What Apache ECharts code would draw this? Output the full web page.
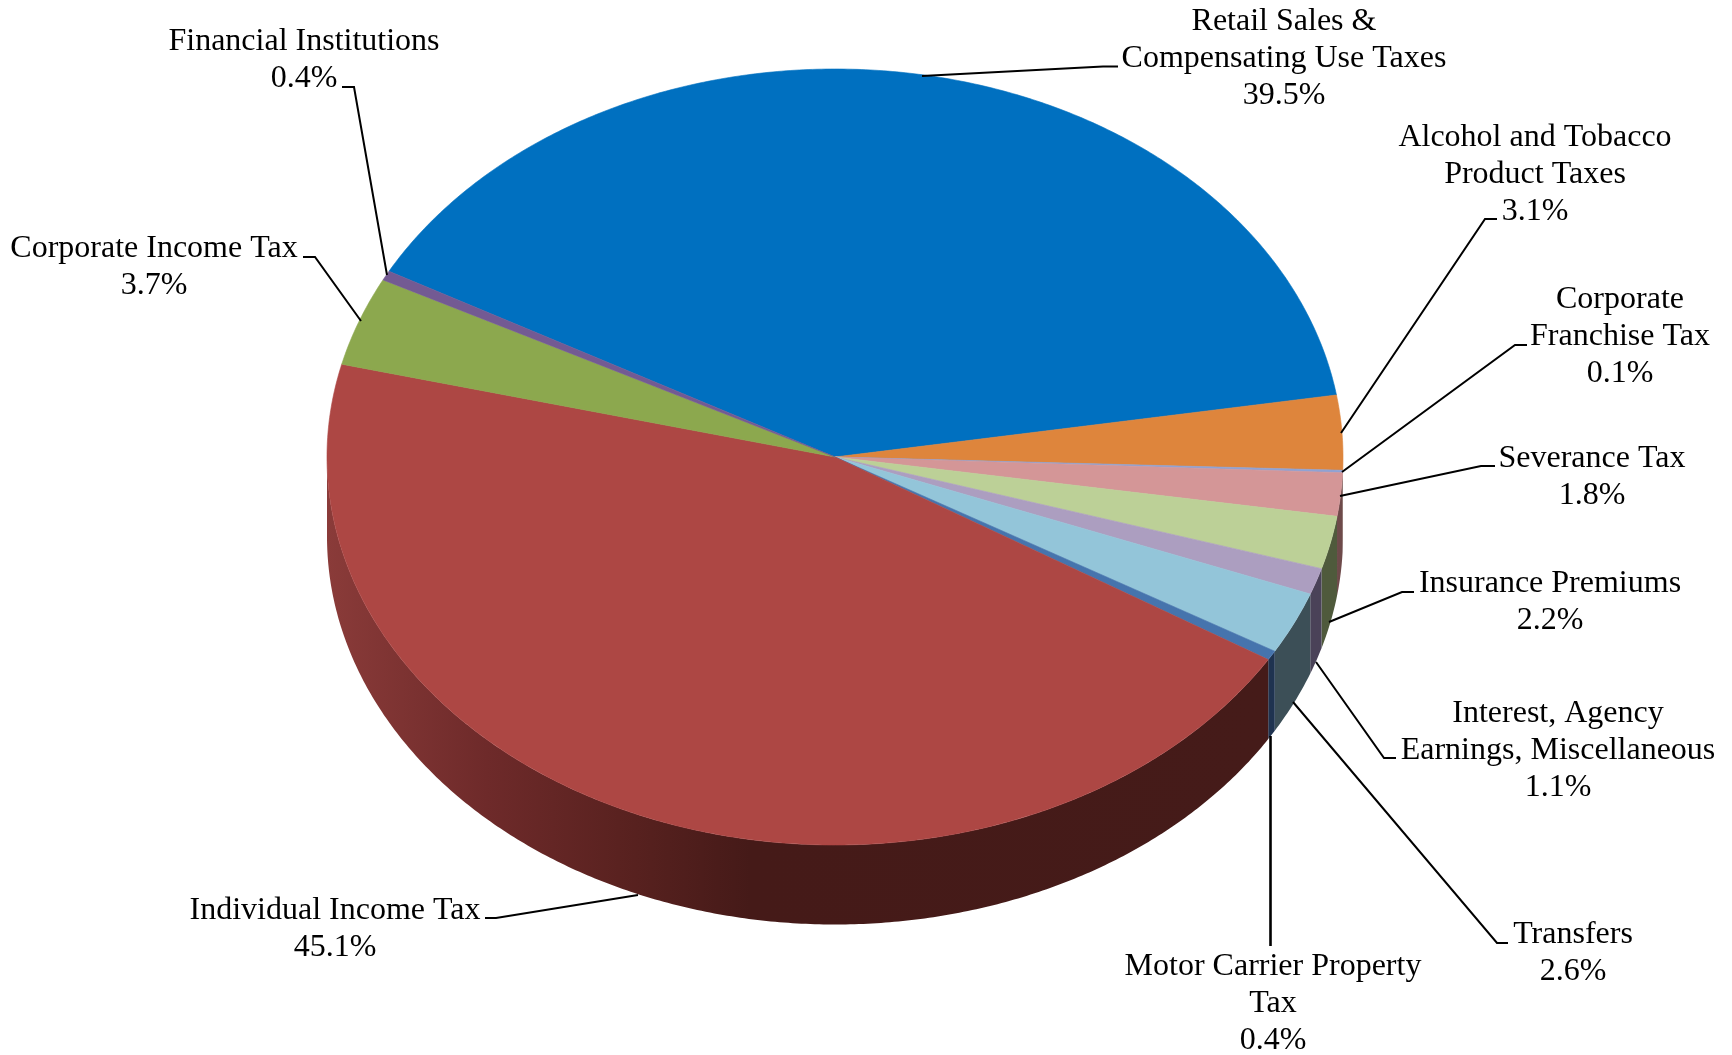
<!DOCTYPE html>
<html><head><meta charset="utf-8">
<style>html,body{margin:0;padding:0;background:#fff}#c{width:1732px;height:1055px}</style>
<script src="https://cdn.jsdelivr.net/npm/echarts@6/dist/echarts.min.js"></script>
</head><body><div id="c"></div>
<script>
// ---- data ----
const categories = ['Retail Sales & Compensating Use Taxes','Alcohol and Tobacco Product Taxes','Corporate Franchise Tax','Severance Tax','Insurance Premiums','Interest, Agency Earnings, Miscellaneous','Transfers','Motor Carrier Property Tax','Individual Income Tax','Corporate Income Tax','Financial Institutions'];
const shares = [39.5,3.1,0.1,1.8,2.2,1.1,2.6,0.4,45.1,3.7,0.4];
const labelLines = [
  ['Retail Sales &','Compensating Use Taxes'],['Alcohol and Tobacco','Product Taxes'],['Corporate','Franchise Tax'],
  ['Severance Tax'],['Insurance Premiums'],['Interest, Agency','Earnings, Miscellaneous'],['Transfers'],
  ['Motor Carrier Property','Tax'],['Individual Income Tax'],['Corporate Income Tax'],['Financial Institutions']
];
// ---- styling and layout ----
const topColors = ['#0070C0','#DE853C','#8FA2D4','#D49697','#BCD097','#AC9EC0','#93C5D9','#4674AD','#AD4744','#8CA84E','#735A93'];
const sideColors = ['#003A63','#6E4220','#47506A','#6E4A4A','#4F5A3C','#4A4258','#3C4F57','#1F3350',null,'#4A5A2A','#3A2D4A'];
const cx = 835, cy = 457, rx = 508, ry = 388, depth = 79.5, startDeg = -61.4;
const fontCss = '32px "Liberation Serif"', lineH = 37;
const labelCenters = [[1284,22],[1535,138],[1620,300],[1592,459],[1550,584],[1558,714],[1573,935],[1273,967],[335,911],[154,249],[304,42]];
const leaders = [
  [[1118,66.5],[1103,66.5],[922,76]],
  [[1497,219],[1485,219],[1341,433]],
  [[1527,345],[1515,345],[1342,472]],
  [[1495,466],[1481,466],[1340,496]],
  [[1414,592],[1402,592],[1329,622]],
  [[1396,758],[1384,758],[1316,662]],
  [[1508,943],[1497,943],[1293,702]],
  [[1270.5,946],[1270.5,736]],
  [[485,918],[496,918],[638,895]],
  [[303,257],[315,257],[361,321]],
  [[342,87],[354,87],[387,275]]
];
const leaderWidths = [2,2,2,2,2,2,2,2.6,2,2,2];

const total = shares.reduce((a,b)=>a+b,0);
const starts = []; shares.reduce((acc,v,i)=>{starts[i]=acc;return acc+v;},0);
const toDeg = p => startDeg + p/total*360;
const pt = (deg,dy=0) => {const a=deg*Math.PI/180;return [cx+rx*Math.sin(a),cy-ry*Math.cos(a)+dy];};
function arc(a0,a1,dy){const n=Math.max(2,Math.ceil(Math.abs(a1-a0)*2));const o=[];for(let i=0;i<=n;i++)o.push(pt(a0+(a1-a0)*i/n,dy));return o;}

function renderTop(params,api){
  const i=params.dataIndex, a0=toDeg(starts[i]), a1=a0+api.value(0)/total*360;
  const c=topColors[i];
  return {type:'polygon',shape:{points:[[cx,cy]].concat(arc(a0,a1,0))},style:{fill:c,stroke:c,lineWidth:0.6}};
}
function renderSide(params,api){
  const i=params.dataIndex; let a0=toDeg(starts[i]), a1=a0+api.value(0)/total*360;
  a0=Math.max(a0,90); a1=Math.min(a1,270);
  if(a1<=a0) return {type:'group',children:[]};
  const pts=arc(a0,a1,0).concat(arc(a1,a0,depth));
  const fill = sideColors[i] || new echarts.graphic.LinearGradient(0,0,1,0,[
    {offset:0,color:'#8A3B39'},{offset:.17,color:'#6E2A2A'},{offset:.31,color:'#5A2220'},{offset:.45,color:'#451A18'},{offset:1,color:'#451B19'}]);
  return {type:'polygon',shape:{points:pts},style:{fill:fill}};
}
function renderLabel(params,api){
  const i=params.dataIndex;
  const pct=api.value(0).toFixed(1)+'%';
  const txt=labelLines[i].concat([pct]).join('\n');
  const [x,y]=labelCenters[i];
  return {type:'group',children:[
    {type:'polyline',shape:{points:leaders[i]},style:{fill:null,stroke:'#000',lineWidth:leaderWidths[i]}},
    {type:'text',x:x,y:y-lineH/2,style:{text:txt,font:fontCss,fill:'#000',align:'center',verticalAlign:'top',lineHeight:lineH}}
  ]};
}
const data = shares.map((v,i)=>({name:categories[i],value:[v]}));
const chart = echarts.init(document.getElementById('c'),null,{renderer:'canvas'});
chart.setOption({
  animation:false,backgroundColor:'#fff',
  series:[
    {type:'custom',name:'side',coordinateSystem:'none',data:data,renderItem:renderSide,silent:true,z:1},
    {type:'custom',name:'top',coordinateSystem:'none',data:data,renderItem:renderTop,silent:true,z:2},
    {type:'custom',name:'labels',coordinateSystem:'none',data:data,renderItem:renderLabel,silent:true,z:3}
  ]
});
</script></body></html>
